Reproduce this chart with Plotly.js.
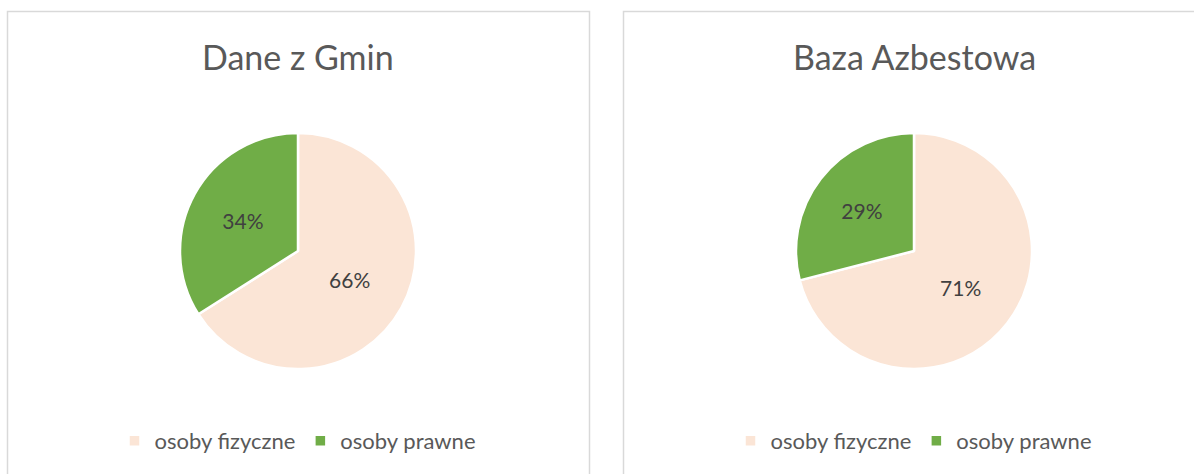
<!DOCTYPE html>
<html>
<head>
<meta charset="utf-8">
<script src="https://cdn.plot.ly/plotly-3.0.1.min.js"></script>
<style>
html,body{margin:0;padding:0;background:#fff;}
#wrap{width:1194px;height:474px;position:relative;overflow:hidden;}
.c{position:absolute;top:0;width:597px;height:474px;}
#left{left:0;} #right{left:597px;}
</style>
</head>
<body>
<div id="wrap"><div id="left" class="c"></div><div id="right" class="c"></div></div>
<script>
const categories = ["osoby fizyczne", "osoby prawne"];
const chartTitles = ["Dane z Gmin", "Baza Azbestowa"];
const valuesGminy = [66, 34];
const valuesBaza = [71, 29];
const sliceColors = ["#FBE5D6", "#70AD47"];

const W = 597, H = 474;
const FONT = "Lato, 'Open Sans', sans-serif";

function drawChart(divId, title, values, cx, boxX0, boxX1) {
  const r = 118, cy = 251;
  const trace = {
    type: "pie",
    labels: categories,
    values: values,
    sort: false,
    direction: "clockwise",
    rotation: 0,
    marker: {colors: sliceColors, line: {color: "#ffffff", width: 2.5}},
    texttemplate: "%{percent:.0%}",
    textposition: "inside",
    insidetextorientation: "horizontal",
    textfont: {family: FONT, size: 21, color: "#404040"},
    hoverinfo: "label+percent",
    domain: {
      x: [(cx - r) / W, (cx + r) / W],
      y: [(H - cy - r) / H, (H - cy + r) / H]
    }
  };
  const layout = {
    width: W, height: H,
    margin: {l: 0, r: 0, t: 0, b: 0},
    paper_bgcolor: "rgba(0,0,0,0)",
    showlegend: true,
    legend: {
      orientation: "h", xanchor: "center", yanchor: "middle",
      x: cx / W, y: 1 - 441 / H,
      font: {family: FONT, size: 22, color: "#595959"},
      itemwidth: 30, bgcolor: "rgba(0,0,0,0)"
    },
    annotations: [
      {text: title, x: cx / W, y: 1 - 57 / H, xref: "paper", yref: "paper",
       xanchor: "center", yanchor: "middle", showarrow: false,
       font: {family: FONT, size: 34, color: "#595959", weight: 400}}
    ],
    shapes: [
      {type: "rect", xref: "paper", yref: "paper",
       x0: boxX0 / W, x1: boxX1 / W, y0: -0.05, y1: 1 - 11.5 / H,
       line: {color: "#d9d9d9", width: 1.5}, fillcolor: "rgba(0,0,0,0)"}
    ]
  };
  Plotly.newPlot(divId, [trace], layout, {displayModeBar: false, staticPlot: true});
}

drawChart("left", chartTitles[0], valuesGminy, 298, 7.5, 589.5);
drawChart("right", chartTitles[1], valuesBaza, 914 - 597, 623.5 - 597, 620);
</script>
</body>
</html>
